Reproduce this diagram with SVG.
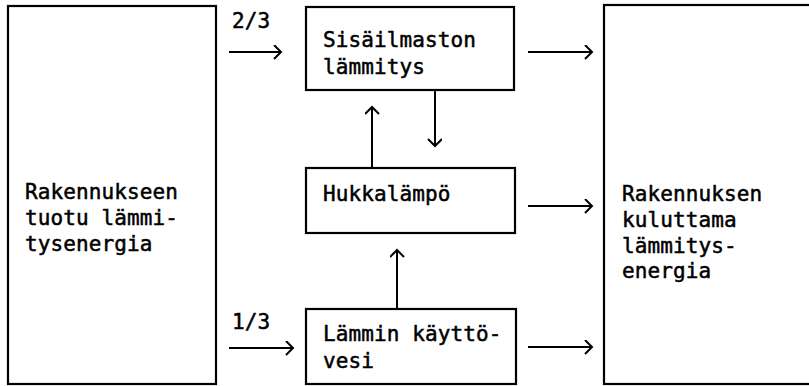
<svg xmlns="http://www.w3.org/2000/svg" width="809" height="386" viewBox="0 0 809 386">
<style>
.box{fill:none;stroke:#000;stroke-width:2.2}
.t{font-family:"DejaVu Sans Mono","Liberation Mono",monospace;font-size:21px;fill:#000;stroke:#000;stroke-width:0.5;letter-spacing:0.1px}
.c{stroke:#000;stroke-width:2;fill:none;marker-end:url(#ah)}
</style>
<defs>
<marker id="ah" markerUnits="userSpaceOnUse" markerWidth="12" markerHeight="16" refX="9" refY="7" orient="auto">
<path d="M2,0 L9,7 L2,14" fill="none" stroke="#000" stroke-width="2"/>
</marker>
</defs>
<rect width="809" height="386" fill="#fff"/>
<g id="source">
<rect class="box" x="8" y="6" width="208" height="378"/>
<text class="t" x="25" y="199">Rakennukseen</text>
<text class="t" x="25" y="225">tuotu lämmi-</text>
<text class="t" x="25" y="251">tysenergia</text>
</g>
<g id="sisa">
<rect class="box" x="306" y="7" width="208" height="83"/>
<text class="t" x="323" y="47">Sisäilmaston</text>
<text class="t" x="323" y="74">lämmitys</text>
</g>
<g id="hukka">
<rect class="box" x="306" y="168" width="209" height="65"/>
<text class="t" x="323" y="201">Hukkalämpö</text>
</g>
<g id="vesi">
<rect class="box" x="306" y="309" width="210" height="75"/>
<text class="t" x="323" y="341">Lämmin käyttö-</text>
<text class="t" x="323" y="368">vesi</text>
</g>
<g id="consumed">
<rect class="box" x="604" y="5" width="215" height="379"/>
<text class="t" x="622" y="201">Rakennuksen</text>
<text class="t" x="622" y="227">kuluttama</text>
<text class="t" x="622" y="253">lämmitys-</text>
<text class="t" x="622" y="278">energia</text>
</g>
<g id="connectors">
<path class="c" d="M229,52 H281"/>
<text class="t" x="232" y="28">2/3</text>
<path class="c" d="M229,348 H293"/>
<text class="t" x="232" y="329">1/3</text>
<path class="c" d="M528,52 H592"/>
<path class="c" d="M528,206 H592"/>
<path class="c" d="M528,347 H592"/>
<path class="c" d="M372,168 V107"/>
<path class="c" d="M435,90 V146"/>
<path class="c" d="M397,309 V250"/>
</g>
</svg>
